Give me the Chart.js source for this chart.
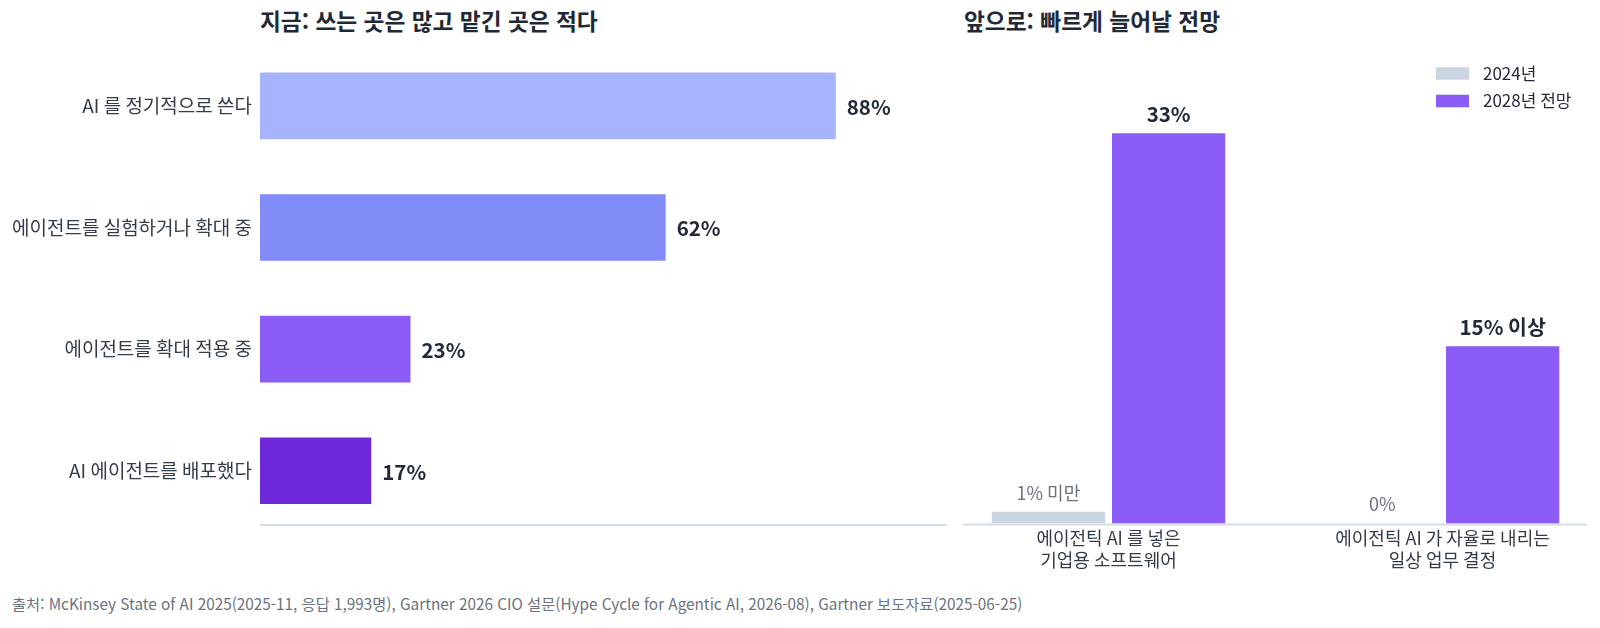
<!DOCTYPE html>
<html lang="ko">
<head>
<meta charset="utf-8">
<script src="https://cdn.jsdelivr.net/npm/chart.js@4.4.1/dist/chart.umd.min.js"></script>
<style>
  html,body{margin:0;padding:0;background:#fff;width:1600px;height:628px;overflow:hidden;}
  body{position:relative;font-family:"Noto Sans CJK KR","Noto Sans",sans-serif;}
  .title{position:absolute;top:4px;font-weight:700;font-size:22.7px;color:#1f2937;white-space:nowrap;}
  .note{position:absolute;left:12px;top:592px;font-size:15.3px;color:#6b7280;white-space:nowrap;}
  #w1{position:absolute;left:0;top:0;width:955px;height:551px;}
  #w2{position:absolute;left:930px;top:0;width:690px;height:590px;}
</style>
</head>
<body>
<div class="title" style="left:260px">지금: 쓰는 곳은 많고 맡긴 곳은 적다</div>
<div class="title" style="left:964px">앞으로: 빠르게 늘어날 전망</div>
<div id="w1"><canvas id="c1"></canvas></div>
<div id="w2"><canvas id="c2"></canvas></div>
<div class="note">출처: McKinsey State of AI 2025(2025-11, 응답 1,993명), Gartner 2026 CIO 설문(Hype Cycle for Agentic AI, 2026-08), Gartner 보도자료(2025-06-25)</div>
<script>
const FONT = '"Noto Sans CJK KR","Noto Sans",sans-serif';

// ---- Left chart data ----
const nowCategories = ['AI 를 정기적으로 쓴다', '에이전트를 실험하거나 확대 중', '에이전트를 확대 적용 중', 'AI 에이전트를 배포했다'];
const nowValues = [88, 62, 23, 17];
const nowLabels = ['88%', '62%', '23%', '17%'];
const nowColors = ['#a5b4fc', '#818cf8', '#8b5cf6', '#6d28d9'];

// ---- Right chart data ----
const futureCategories = [['에이전틱 AI 를 넣은', '기업용 소프트웨어'], ['에이전틱 AI 가 자율로 내리는', '일상 업무 결정']];
const seriesNames = ['2024년', '2028년 전망'];
const values2024 = [1, 0];
const values2028 = [33, 15];
const labels2024 = ['1% 미만', '0%'];
const labels2028 = ['33%', '15% 이상'];
const seriesColors = ['#cbd5e1', '#8b5cf6'];

const hValueLabels = {
  id: 'hValueLabels',
  afterDatasetsDraw(chart) {
    const ctx = chart.ctx;
    const meta = chart.getDatasetMeta(0);
    ctx.save();
    ctx.font = '700 20.5px ' + FONT;
    ctx.fillStyle = '#1f2937';
    ctx.textAlign = 'left';
    ctx.textBaseline = 'middle';
    meta.data.forEach((bar, i) => {
      ctx.fillText(nowLabels[i], bar.x + 11, bar.y + 1);
    });
    ctx.restore();
  }
};

const hBaseLine = {
  id: 'hBaseLine',
  beforeDatasetsDraw(chart) {
    const ctx = chart.ctx;
    const a = chart.chartArea;
    ctx.save();
    ctx.strokeStyle = '#d5dde7';
    ctx.lineWidth = 2;
    ctx.beginPath();
    ctx.moveTo(a.left, a.bottom - 6.5);
    ctx.lineTo(a.right, a.bottom - 6.5);
    ctx.stroke();
    ctx.restore();
  }
};

new Chart(document.getElementById('c1'), {
  type: 'bar',
  data: {
    labels: nowCategories,
    datasets: [{
      data: nowValues,
      backgroundColor: nowColors,
      borderWidth: 0,
      barPercentage: 1,
      categoryPercentage: 0.548
    }]
  },
  options: {
    indexAxis: 'y',
    responsive: true,
    maintainAspectRatio: false,
    animation: false,
    layout: { padding: { top: 45, bottom: 10, right: 8, left: 0 } },
    plugins: { legend: { display: false }, tooltip: { enabled: false } },
    scales: {
      x: {
        min: 0, max: 105,
        grid: { display: false, drawTicks: false },
        border: { display: false },
        ticks: { display: false },
        afterFit(s) { s.height = 0; }
      },
      y: {
        grid: { display: false, drawTicks: false },
        border: { display: false },
        ticks: { color: '#333d4a', font: { family: FONT, size: 19 }, padding: 8 },
        afterFit(s) { s.width = 260; }
      }
    }
  },
  plugins: [hBaseLine, hValueLabels]
});

const vValueLabels = {
  id: 'vValueLabels',
  afterDatasetsDraw(chart) {
    const ctx = chart.ctx;
    ctx.save();
    ctx.textAlign = 'center';
    ctx.textBaseline = 'middle';
    const m0 = chart.getDatasetMeta(0), m1 = chart.getDatasetMeta(1);
    ctx.font = '400 18px ' + FONT;
    ctx.fillStyle = '#6b7280';
    m0.data.forEach((bar, i) => ctx.fillText(labels2024[i], bar.x, bar.y - 19));
    ctx.font = '700 20.5px ' + FONT;
    ctx.fillStyle = '#1f2937';
    m1.data.forEach((bar, i) => ctx.fillText(labels2028[i], bar.x, bar.y - 19));
    ctx.restore();
  }
};

const baseLine = {
  id: 'baseLine',
  beforeDatasetsDraw(chart) {
    const ctx = chart.ctx;
    const xs = chart.scales.x, ys = chart.scales.y;
    const y = ys.getPixelForValue(0);
    ctx.save();
    ctx.strokeStyle = '#d5dde7';
    ctx.lineWidth = 2;
    ctx.beginPath();
    ctx.moveTo(xs.left + 21.5, y + 1);
    ctx.lineTo(xs.right - 22.5, y + 1);
    ctx.stroke();
    ctx.restore();
  }
};

const sideLegend = {
  id: 'sideLegend',
  afterDraw(chart) {
    const ctx = chart.ctx;
    const x0 = chart.chartArea.right - 173.5;
    const y0 = chart.chartArea.top + 23;
    ctx.save();
    ctx.font = '400 17px ' + FONT;
    ctx.textBaseline = 'middle';
    ctx.textAlign = 'left';
    chart.data.datasets.forEach((ds, i) => {
      const y = y0 + i * 27.5;
      ctx.fillStyle = ds.backgroundColor;
      ctx.fillRect(x0, y - 6.25, 33, 12.5);
      ctx.fillStyle = '#1f2937';
      ctx.fillText(ds.label, x0 + 47, y);
    });
    ctx.restore();
  }
};

new Chart(document.getElementById('c2'), {
  type: 'bar',
  data: {
    labels: futureCategories,
    datasets: [
      { label: seriesNames[0], data: values2024, backgroundColor: seriesColors[0], borderWidth: 0, barPercentage: 0.942, categoryPercentage: 0.72 },
      { label: seriesNames[1], data: values2028, backgroundColor: seriesColors[1], borderWidth: 0, barPercentage: 0.942, categoryPercentage: 0.72 }
    ]
  },
  options: {
    responsive: true,
    maintainAspectRatio: false,
    animation: false,
    layout: { padding: { top: 50.5, bottom: 6.5, left: 11.5, right: 10.5 } },
    plugins: { legend: { display: false }, tooltip: { enabled: false } },
    scales: {
      x: {
        grid: { display: false, drawTicks: false },
        border: { display: false },
        ticks: { color: '#333d4a', font: { family: FONT, size: 18, lineHeight: 1.2 }, padding: 4, maxRotation: 0 },
        afterFit(s) { s.height = 60; }
      },
      y: {
        display: false,
        min: 0, max: 40
      }
    }
  },
  plugins: [baseLine, vValueLabels, sideLegend]
});
</script>
</body>
</html>
